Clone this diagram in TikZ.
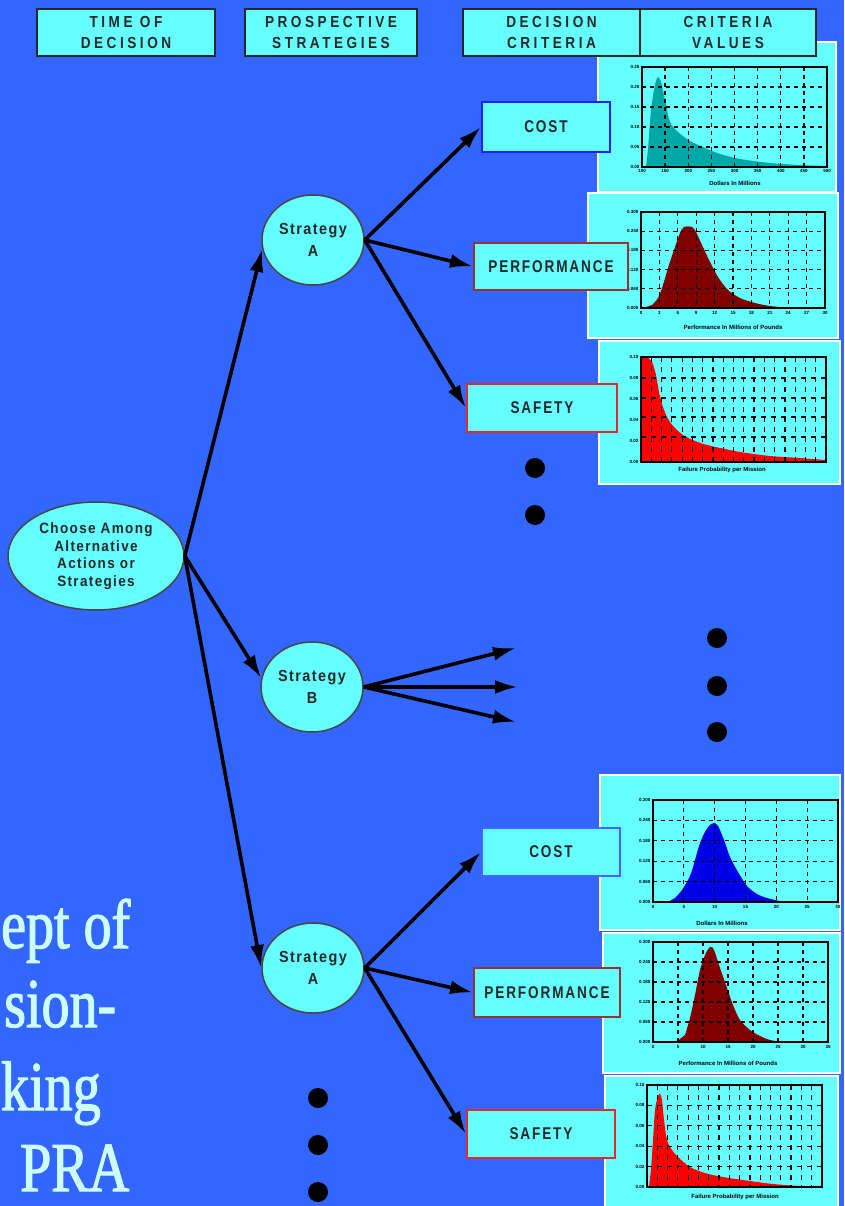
\documentclass[tikz,border=0pt]{standalone}
\usepackage{fontspec}
\usetikzlibrary{arrows.meta,shapes.geometric}
\setmainfont{Liberation Sans}
\newfontfamily\hdrfont[LetterSpace=22,FakeStretch=0.85]{Liberation Sans Bold}
\newfontfamily\boxfont[LetterSpace=11,FakeStretch=0.8]{Liberation Sans Bold}
\newfontfamily\nodefont[LetterSpace=9,FakeStretch=0.9]{Liberation Sans Bold}
\newfontfamily\titlefont[FakeStretch=0.8,FakeBold=1.6]{Liberation Serif}
\newfontfamily\tickfont{Liberation Sans}
\definecolor{bgblue}{RGB}{51,102,255}
\definecolor{cyanfill}{RGB}{102,255,255}
\definecolor{titlecyan}{RGB}{204,255,255}
\definecolor{tealfill}{RGB}{0,168,168}
\definecolor{maroonfill}{RGB}{128,0,0}
\definecolor{redfill}{RGB}{255,0,0}
\definecolor{bluefill}{RGB}{0,0,230}
\definecolor{inkdark}{RGB}{35,40,40}
\definecolor{costblue}{RGB}{30,30,255}
\definecolor{costbluetwo}{RGB}{70,100,255}
\definecolor{perfred}{RGB}{153,51,51}
\definecolor{safered}{RGB}{230,40,40}
\definecolor{rimgray}{RGB}{70,70,70}
\begin{document}
\begin{tikzpicture}[x=1pt,y=-1pt,
  panel/.style={fill=cyanfill, draw=white, line width=2pt},
  hdrbox/.style={draw=inkdark, line width=2pt, fill=cyanfill, minimum height=47pt, inner sep=0pt, align=center, text=inkdark, font={\hdrfont\fontsize{16}{21}\selectfont}},
  crit/.style={fill=cyanfill, line width=2pt, minimum height=48pt, inner sep=0pt, text=inkdark, font={\boxfont\fontsize{17}{20}\selectfont}},
  strat/.style={ellipse, draw=rimgray, line width=1.5pt, fill=cyanfill, minimum width=102pt, minimum height=90pt, inner sep=0pt, align=center, text=inkdark, font={\nodefont\fontsize{16}{22}\selectfont}},
  chooser/.style={ellipse, draw=rimgray, line width=1.5pt, fill=cyanfill, minimum width=176pt, minimum height=108pt, inner sep=0pt, align=center, text=inkdark, font={\nodefont\fontsize{15}{17.5}\selectfont}},
  conn/.style={black, line width=3.6pt, -{Latex[length=23pt,width=14pt]}},
  dotnode/.style={circle, fill=black, minimum size=20pt, inner sep=0pt},
  griddash/.style={black, line width=1.3pt, dash pattern=on 4pt off 4pt},
  densedash/.style={black, line width=1.2pt, dash pattern=on 5pt off 5pt},
  frame/.style={black, line width=2pt},
  tick/.style={inner sep=0.5pt, text=black, font={\tickfont\bfseries\fontsize{4.5}{5}\selectfont}},
  axlab/.style={inner sep=0pt, text=black, font={\tickfont\bfseries\fontsize{6}{7}\selectfont}},
  titletext/.style={anchor=base west, inner sep=0pt, text=titlecyan, font={\titlefont\fontsize{70}{70}\selectfont}}
]
\path[use as bounding box, fill=bgblue] (0,0) rectangle (844,1206);

% ---------- title fragments (as visible at the left edge) ----------
\node[titletext] (t1) at (1,948) {ept of};
\node[titletext] (t2) at (4,1027) {sion-};
\node[titletext] (t3) at (1,1110) {king};
\node[titletext] (t4) at (20,1191) {PRA};

% ---------- chart panels ----------
\path[panel] (598,42) rectangle (836,192);
\path[panel] (588,193) rectangle (838,338);
\path[panel] (599,341) rectangle (840,484);
\path[panel] (600,775) rectangle (840,930);
\path[panel] (603,933) rectangle (840,1073);
\fill[cyanfill] (605,1076) rectangle (838,1206);
\draw[white, line width=2pt] (605,1206) -- (605,1076) -- (838,1076) -- (838,1206);

% ---------- chart 1: top cost ----------
\fill[tealfill] (646,167) -- plot[smooth, tension=0.5] coordinates {(648,150) (651,110) (655,85) (658,77) (661,82) (665,100) (670,122) (678,132) (690,141) (705,148) (720,154) (740,159) (770,163) (800,165) (826,166)} -- (826,167) -- cycle;
\foreach \y in {87,107,127,147} \draw[griddash] (642,\y) -- (827,\y);
\foreach \k in {1,...,7} \draw[griddash] ({642+23.125*\k},67) -- ({642+23.125*\k},167);
\draw[frame] (642,67) rectangle (827,167);
\foreach \v [count=\i from 0] in {100,150,200,250,300,350,400,450,500}
  \node[tick, anchor=north] (ax1-\i) at ({642+23.125*\i},169) {\v};
\foreach \v [count=\i from 0] in {0.00,0.05,0.10,0.15,0.20,0.25}
  \node[tick, anchor=east] (ay1-\i) at (640,{167-20*\i}) {\v};
\node[axlab] (al1) at (735,183) {Dollars In Millions};

% ---------- chart 2: top performance ----------
\fill[maroonfill] (643,308) -- plot[smooth, tension=0.5] coordinates {(652,305) (658,298) (663,285) (668,268) (674,250) (680,233) (684,227) (692,227) (696,232) (702,245) (710,262) (718,277) (728,290) (740,298) (755,303) (770,306) (790,308)} -- cycle;
\foreach \y in {231.2,250.4,269.6,288.8} \draw[griddash] (641,\y) -- (825,\y);
\foreach \k in {1,...,9} \draw[griddash] ({641+18.4*\k},212) -- ({641+18.4*\k},308);
\draw[frame] (641,212) rectangle (825,308);
\foreach \v [count=\i from 0] in {0,3,6,9,12,15,18,21,24,27,30}
  \node[tick, anchor=north] (ax2-\i) at ({641+18.4*\i},311) {\v};
\foreach \v [count=\i from 0] in {0.000,0.060,0.120,0.180,0.240,0.300}
  \node[tick, anchor=east] (ay2-\i) at (639,{308-19.2*\i}) {\v};
\node[axlab] (al2) at (733,327) {Performance In Millions of Pounds};

% ---------- chart 3: top safety ----------
\fill[redfill] (641,462) -- (641,357) -- plot[smooth, tension=0.5] coordinates {(647,357) (652,362) (656,375) (659,392) (663,407) (668,419) (675,428) (683,435) (695,441) (707,445) (725,449) (740,452) (770,456) (800,458) (825,460)} -- (825,462) -- cycle;
\foreach \y in {378,398,417,437} \draw[densedash] (641,\y) -- (826,\y);
\foreach \k in {1,...,17} \draw[densedash] ({641+10.28*\k},357) -- ({641+10.28*\k},462);
\draw[frame] (641,357) rectangle (826,462);
\foreach \v [count=\i from 0] in {0.00,0.02,0.04,0.06,0.08,0.10}
  \node[tick, anchor=east] (ay3-\i) at (639,{462-21*\i}) {\v};
\node[axlab] (al3) at (722,470) {Failure Probability per Mission};

% ---------- chart 4: bottom cost ----------
\fill[bluefill] (668,902) -- plot[smooth, tension=0.5] coordinates {(675,898) (682,890) (690,876) (695,860) (700,843) (706,830) (711,824) (714,823) (718,826) (724,840) (730,857) (738,872) (747,886) (757,894) (767,898) (780,901) (790,902)} -- cycle;
\foreach \y in {820.4,840.8,861.2,881.6} \draw[griddash] (653,\y) -- (838,\y);
\foreach \k in {1,...,5} \draw[griddash] ({653+30.83*\k},800) -- ({653+30.83*\k},902);
\draw[frame] (653,800) rectangle (838,902);
\foreach \v [count=\i from 0] in {0,5,10,15,20,25,30}
  \node[tick, anchor=north] (ax4-\i) at ({653+30.83*\i},905) {\v};
\foreach \v [count=\i from 0] in {0.000,0.060,0.120,0.180,0.240,0.300}
  \node[tick, anchor=east] (ay4-\i) at (651,{902-20.4*\i}) {\v};
\node[axlab] (al4) at (722,923) {Dollars In Millions};

% ---------- chart 5: bottom performance ----------
\fill[maroonfill] (676,1042) -- plot[smooth, tension=0.5] coordinates {(685,1035) (690,1018) (695,995) (700,970) (705,955) (710,947) (714,950) (720,968) (726,985) (733,1005) (740,1020) (750,1030) (760,1036) (770,1040) (782,1042)} -- cycle;
\foreach \y in {962,982,1002,1022} \draw[griddash] (653,\y) -- (828,\y);
\foreach \k in {1,...,6} \draw[griddash] ({653+25*\k},942) -- ({653+25*\k},1042);
\draw[frame] (653,942) rectangle (828,1042);
\foreach \v [count=\i from 0] in {0,5,10,15,20,25,30,35}
  \node[tick, anchor=north] (ax5-\i) at ({653+25*\i},1045) {\v};
\foreach \v [count=\i from 0] in {0.000,0.060,0.120,0.180,0.240,0.300}
  \node[tick, anchor=east] (ay5-\i) at (651,{1042-20*\i}) {\v};
\node[axlab] (al5) at (728,1063) {Performance In Millions of Pounds};

% ---------- chart 6: bottom safety ----------
\fill[redfill] (649,1187) -- plot[smooth, tension=0.5] coordinates {(651,1170) (653,1140) (655,1110) (658,1096) (660,1094) (662,1100) (664,1120) (667,1140) (672,1150) (678,1157) (690,1167) (705,1173) (723,1177) (750,1181) (773,1184) (800,1186) (821,1187)} -- cycle;
\foreach \y in {1105.4,1125.8,1146.2,1166.6} \draw[densedash] (647,\y) -- (822,\y);
\foreach \k in {1,...,16} \draw[densedash] ({647+10.29*\k},1085) -- ({647+10.29*\k},1187);
\draw[frame] (647,1085) rectangle (822,1187);
\foreach \v [count=\i from 0] in {0.00,0.02,0.04,0.06,0.08,0.10}
  \node[tick, anchor=east] (ay6-\i) at (645,{1187-20.4*\i}) {\v};
\node[axlab] (al6) at (735,1197) {Failure Probability per Mission};

% ---------- header ----------
\node[hdrbox, minimum width=178pt] (h1) at (126,32.5) {TIME OF\\DECISION};
\node[hdrbox, minimum width=172pt] (h2) at (331,32.5) {PROSPECTIVE\\STRATEGIES};
\node[hdrbox, minimum width=177pt] (h3) at (551.5,32.5) {DECISION\\CRITERIA};
\node[hdrbox, minimum width=176pt] (h4) at (728,32.5) {CRITERIA\\VALUES};

% ---------- criteria boxes ----------
\node[crit, draw=costblue, minimum width=128pt, minimum height=50pt] (cost1) at (546,127) {COST};
\node[crit, draw=perfred, minimum width=154pt, minimum height=47pt] (perf1) at (551,266.5) {PERFORMANCE};
\node[crit, draw=safered, minimum width=150pt] (safe1) at (542,408) {SAFETY};
\node[crit, draw=costbluetwo, minimum width=138pt] (cost2) at (551,852) {COST};
\node[crit, draw=perfred, minimum width=146pt, minimum height=49pt] (perf2) at (547,992.5) {PERFORMANCE};
\node[crit, draw=safered, minimum width=148pt] (safe2) at (541,1134) {SAFETY};

% ---------- decision nodes ----------
\node[chooser] (choose) at (96,556) {Choose Among\\Alternative\\Actions or\\Strategies};
\node[strat] (sA) at (313,240) {Strategy\\A};
\node[strat] (sB) at (312,687) {Strategy\\B};
\node[strat] (sC) at (313,968) {Strategy\\A};

\coordinate (b1) at (516,648);
\coordinate (b2) at (518,687);
\coordinate (b3) at (516,722);

% ---------- connectors ----------
\draw[conn] (choose.east) -- (sA.190);
\draw[conn] (choose.east) -- (sB.170);
\draw[conn] (choose.east) -- (sC.180);
\draw[conn] (sA.east) -- (cost1.west);
\draw[conn] (sA.east) -- (perf1.west);
\draw[conn] (sA.east) -- (safe1.west);
\draw[conn] (sB.east) -- (b1);
\draw[conn] (sB.east) -- (b2);
\draw[conn] (sB.east) -- (b3);
\draw[conn] (sC.east) -- (cost2.west);
\draw[conn] (sC.east) -- (perf2.west);
\draw[conn] (sC.east) -- (safe2.west);

% ---------- continuation dots ----------
\node[dotnode] (d1) at (535,468) {};
\node[dotnode] (d2) at (535,515) {};
\node[dotnode] (d3) at (717,638) {};
\node[dotnode] (d4) at (717,686) {};
\node[dotnode] (d5) at (717,732) {};
\node[dotnode] (d6) at (318,1098) {};
\node[dotnode] (d7) at (318,1145) {};
\node[dotnode] (d8) at (318,1192) {};
\end{tikzpicture}
\end{document}
